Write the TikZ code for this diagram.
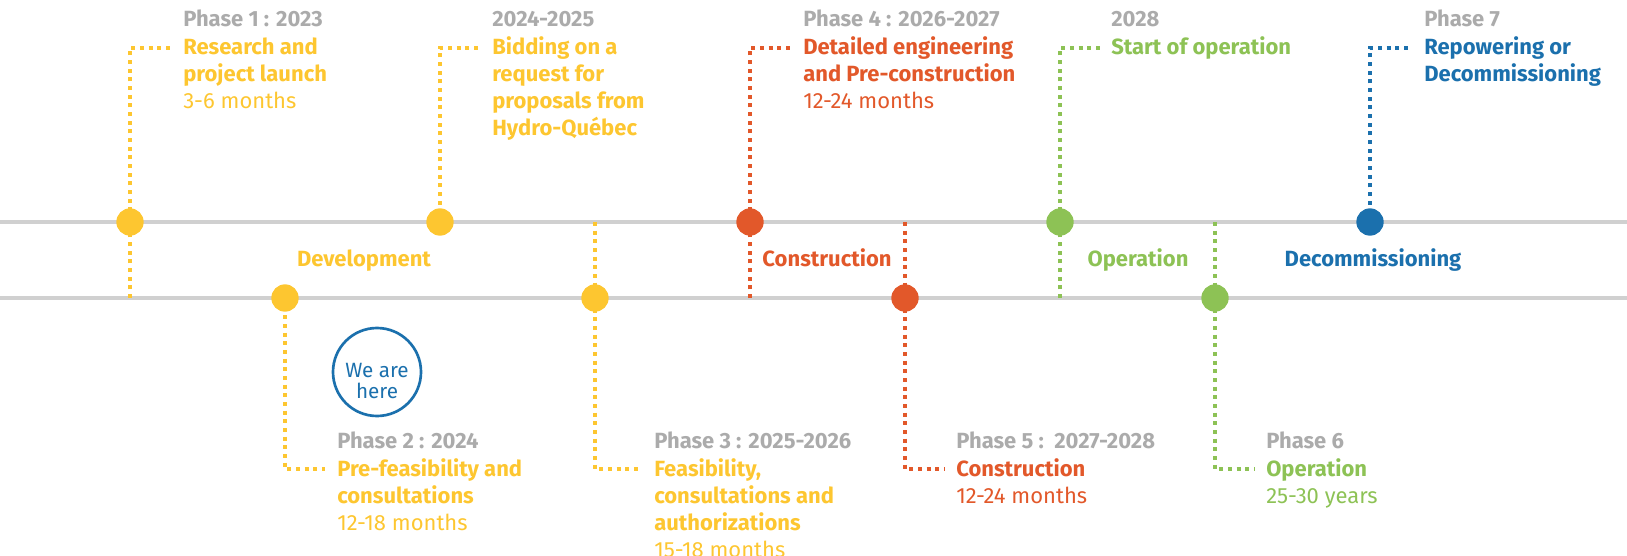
\documentclass[tikz,border=0pt]{standalone}
\usepackage{fontspec}
\setmainfont{Fira Sans}
\definecolor{cy}{HTML}{FDC630}
\definecolor{co}{HTML}{E2582A}
\definecolor{cg}{HTML}{8DC255}
\definecolor{cb}{HTML}{1B70AD}
\definecolor{hgray}{HTML}{ABABAB}
\definecolor{tgray}{HTML}{D0D0D0}
\pgfdeclarelayer{bg}
\pgfsetlayers{bg,main}
\tikzset{
  track/.style={draw=tgray, line width=3pt},
  lead/.style={draw=#1, line width=3pt, dash pattern=on 3pt off 3.5pt},
  dot/.style={circle, fill=#1, minimum size=20.5pt, inner sep=0pt},
  head/.style={text=hgray, font=\bfseries\fontsize{16.5}{20.25}\selectfont, anchor=base west, inner sep=0pt},
  body/.style={text=#1, align=left, anchor=base west, inner sep=0pt, font=\fontsize{16.5}{20.25}\selectfont},
  mid/.style={text=#1, anchor=base, inner sep=0pt, font=\bfseries\fontsize{16.5}{20.25}\selectfont}
}
\begin{document}
\begin{tikzpicture}[x=0.75pt,y=-0.75pt]
\useasboundingbox (0,0) rectangle (1627,556);
% ends of the two tracks
\coordinate (tl) at (0,222);
\coordinate (tr) at (1627,222);
\coordinate (bl) at (0,298);
\coordinate (br) at (1627,298);
% dots
\node[dot=cy] (d1) at (130,222) {};
\node[dot=cy] (d2) at (285,298) {};
\node[dot=cy] (d3) at (440,222) {};
\node[dot=cy] (d4) at (595,298) {};
\node[dot=co] (d5) at (750,222) {};
\node[dot=co] (d6) at (905,298) {};
\node[dot=cg] (d7) at (1060,222) {};
\node[dot=cg] (d8) at (1215,298) {};
\node[dot=cb] (d9) at (1370,222) {};
% top texts (multi-line nodes are placed by the baseline of their last line)
\node[head] (h1) at (183,27) {Phase 1 : 2023};
\node[body=cy] (b1) at (183,109) {\textbf{Research and}\\\textbf{project launch}\\3-6 months};
\node[head] (h3) at (492,27) {2024-2025};
\node[body=cy] (b3) at (492,136) {\textbf{Bidding on a}\\\textbf{request for}\\\textbf{proposals from}\\\textbf{Hydro-Québec}};
\node[head] (h5) at (803,27) {Phase 4 : 2026-2027};
\node[body=co] (b5) at (803,109) {\textbf{Detailed engineering}\\\textbf{and Pre-construction}\\12-24 months};
\node[head] (h7) at (1111,27) {2028};
\node[body=cg] (b7) at (1111,55) {\textbf{Start of operation}};
\node[head] (h9) at (1424,27) {Phase 7};
\node[body=cb] (b9) at (1424,82) {\textbf{Repowering or}\\\textbf{Decommissioning}};
% bottom texts
\node[head] (h2) at (337,448) {Phase 2 : 2024};
\node[body=cy] (b2) at (337,530) {\textbf{Pre-feasibility and}\\\textbf{consultations}\\12-18 months};
\node[head] (h4) at (654,448) {Phase 3 : 2025-2026};
\node[body=cy] (b4) at (654,557) {\textbf{Feasibility,}\\\textbf{consultations and}\\\textbf{authorizations}\\15-18 months};
\node[head] (h6) at (956,448) {Phase 5 :\ \ 2027-2028};
\node[body=co] (b6) at (956,503) {\textbf{Construction}\\12-24 months};
\node[head] (h8) at (1266,448) {Phase 6};
\node[body=cg] (b8) at (1266,503) {\textbf{Operation}\\25-30 years};
% stage labels
\node[mid=cy] (m1) at (364,266) {Development};
\node[mid=co] (m2) at (827,266) {Construction};
\node[mid=cg] (m3) at (1138,266) {Operation};
\node[mid=cb] (m4) at (1373,266) {Decommissioning};
% we are here
\node[circle, draw=cb, line width=2pt, minimum size=66pt, inner sep=0pt] (here) at (377,372) {};
\node[text=cb, align=center, inner sep=0pt, font=\fontsize{15.5}{16}\selectfont] (heretxt) at (377,381) {We are\\here};
% leader coordinates
\coordinate (c1) at (130,48);  \coordinate (e1) at (171,48);
\coordinate (c3) at (440,48);  \coordinate (e3) at (480,48);
\coordinate (c5) at (750,48);  \coordinate (e5) at (791,48);
\coordinate (c7) at (1060,48); \coordinate (e7) at (1100,48);
\coordinate (c9) at (1370,48); \coordinate (e9) at (1411,48);
\coordinate (c2) at (285,469); \coordinate (e2) at (325,469);
\coordinate (c4) at (595,469); \coordinate (e4) at (640,469);
\coordinate (c6) at (905,469); \coordinate (e6) at (945,469);
\coordinate (c8) at (1215,469); \coordinate (e8) at (1255,469);
\begin{pgfonlayer}{bg}
\draw[track] (tl) -- (tr);
\draw[track] (bl) -- (br);
\draw[lead=cy] (d1 |- bl) -- (c1) -- (e1);
\draw[lead=cy] (d3.center) -- (c3) -- (e3);
\draw[lead=co] (d5 |- bl) -- (c5) -- (e5);
\draw[lead=cg] (d7 |- bl) -- (c7) -- (e7);
\draw[lead=cb] (d9.center) -- (c9) -- (e9);
\draw[lead=cy] (d2.center) -- (c2) -- (e2);
\draw[lead=cy] (d4 |- tl) -- (c4) -- (e4);
\draw[lead=co] (d6 |- tl) -- (c6) -- (e6);
\draw[lead=cg] (d8 |- tl) -- (c8) -- (e8);
\end{pgfonlayer}
\end{tikzpicture}
\end{document}
